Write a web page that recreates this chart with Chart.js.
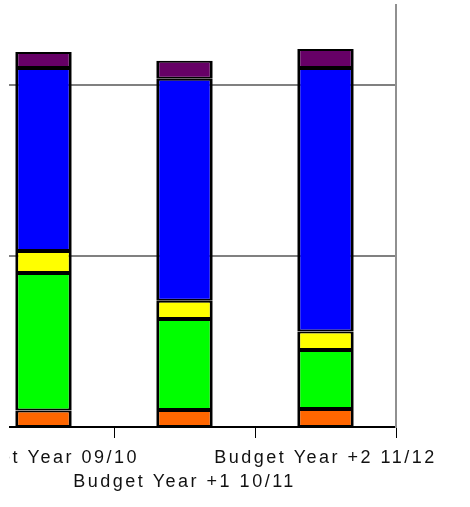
<!DOCTYPE html>
<html>
<head>
<meta charset="utf-8">
<script src="https://cdn.jsdelivr.net/npm/chart.js@4.4.1/dist/chart.umd.min.js"></script>
<style>
  html, body { margin: 0; padding: 0; background: #fff; }
  #clip { position: absolute; left: 9px; top: 0; width: 461px; height: 507px; overflow: hidden; }
  #wrap { position: absolute; left: -36px; top: 0; width: 497px; height: 507px; }
</style>
</head>
<body>
<div id="clip"><div id="wrap"><canvas id="chart"></canvas></div></div>
<script>
const categories = ["Budget Year 09/10", "Budget Year +1 10/11", "Budget Year +2 11/12"];

const orangeValues = [9.6, 9.9, 10.5];
const greenValues = [80.4, 53.2, 34.5];
const yellowValues = [12.9, 10.8, 10.8];
const blueValues = [107.0, 129.8, 154.1];
const purpleValues = [9.4, 10.5, 11.1];

const gridValues = [100, 200];

// canvas letterSpacing is reset with the canvas, so set it every draw
const spacing = {
  id: "spacing",
  beforeDraw(chart) {
    chart.ctx.letterSpacing = "2.5px";
  },
};

function series(label, data, color) {
  return {
    label,
    data,
    backgroundColor: color,
    borderColor: "#000",
    borderWidth: { left: 3, right: 3, top: 2, bottom: 2 },
    borderSkipped: false,
    categoryPercentage: 1,
    barPercentage: 0.4,
  };
}

new Chart(document.getElementById("chart"), {
  type: "bar",
  data: {
    labels: categories,
    datasets: [
      series("Series 1", orangeValues, "#FF6600"),
      series("Series 2", greenValues, "#00FF00"),
      series("Series 3", yellowValues, "#FFFF00"),
      series("Series 4", blueValues, "#0000FF"),
      series("Series 5", purpleValues, "#660066"),
    ],
  },
  options: {
    responsive: true,
    maintainAspectRatio: false,
    animation: false,
    layout: { padding: { top: 5, right: 74, left: 0, bottom: 0 } },
    plugins: {
      legend: { display: false },
      tooltip: { enabled: false },
    },
    scales: {
      x: {
        stacked: true,
        grid: {
          offset: true,
          drawOnChartArea: false,
          drawTicks: true,
          tickLength: 11,
          color: "#000",
          lineWidth: 1,
        },
        border: { color: "#000", width: 2 },
        ticks: {
          autoSkip: false,
          maxRotation: 0,
          minRotation: 0,
          padding: 8,
          color: "#111",
          font: { family: "'Liberation Sans', Arial, sans-serif", size: 18, lineHeight: 1.33 },
          callback(value, index) {
            const label = categories[index];
            return index % 2 === 1 ? ["", label] : label;
          },
        },
        afterFit(scale) {
          scale.height = 80;
          scale.paddingLeft = 0;
          scale.paddingRight = 0;
        },
      },
      y: {
        stacked: true,
        position: "right",
        min: 0,
        max: 246.8,
        ticks: { display: false, stepSize: 100 },
        grid: { color: "#808080", lineWidth: 2, drawTicks: false },
        border: { color: "#909090", width: 2 },
        afterBuildTicks(scale) {
          scale.ticks = gridValues.map((v) => ({ value: v }));
        },
        afterFit(scale) {
          scale.width = 0;
        },
      },
    },
  },
  plugins: [spacing],
});
</script>
</body>
</html>
